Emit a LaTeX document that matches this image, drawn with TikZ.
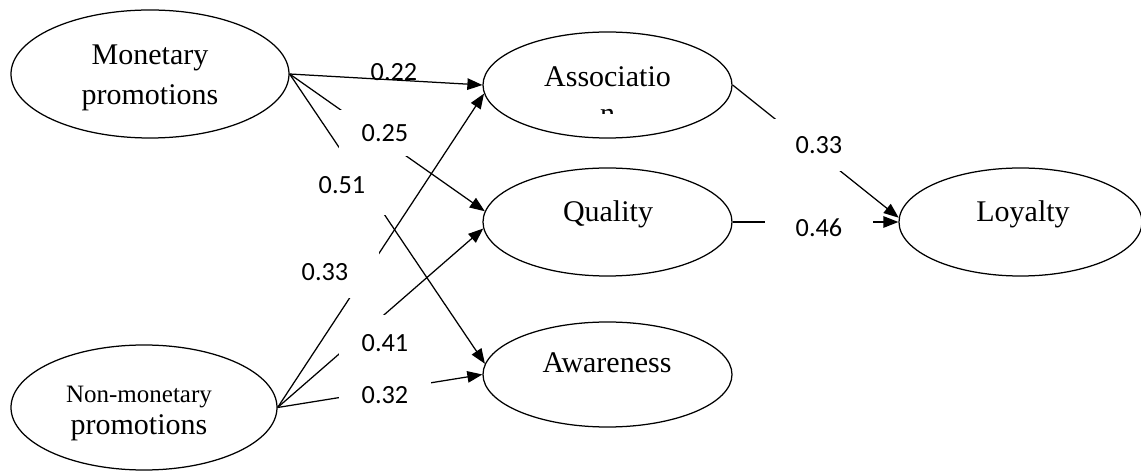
\documentclass[tikz,border=0pt]{standalone}
\usepackage{fontspec}
\setmainfont{Liberation Serif}
\newfontfamily\coeffont{Carlito}
\usetikzlibrary{shapes.geometric,arrows.meta}

\begin{document}
\begin{tikzpicture}[x=0.4pt,y=-0.4pt,line width=0.5pt,>={Triangle[length=6pt,width=4.6pt]},
        construct/.style={ellipse,draw,inner sep=0pt,minimum width=99.6pt,minimum height=42.4pt},
        cname/.style={anchor=base,align=center,inner sep=0pt,font=\fontsize{12}{16}\selectfont},
        lbl/.style={inner sep=0pt,font=\coeffont\fontsize{10.5}{12}\selectfont},
        coef/.style={lbl,fill=white,minimum width=36.8pt,minimum height=18.4pt}]
        \useasboundingbox (0,0) rectangle (1141,472);
        \node[construct,minimum width=111.2pt,minimum height=51.2pt] (mon) at (150,74) {};
        \node[construct,minimum width=106.4pt,minimum height=50pt] (nonmon) at (144,407.5) {};
        \node[construct] (assoc) at (607.5,85) {};
        \node[construct,minimum height=43.2pt] (qual) at (607.5,222) {};
        \node[construct,minimum height=42pt] (aware) at (607.5,374.5) {};
        \node[construct,minimum width=97.2pt,minimum height=43.2pt] (loyal) at (1020.5,222) {};
        \node[cname] (montxt) at (150,105) {Monetary\\promotions};
        \node[cname,font=\fontsize{12}{12.8}\selectfont] (nonmontxt) at (139,435) {{\fontsize{10}{12}\selectfont Non-monetary}\\promotions};
        \begin{scope}
            \clip (450,20) rectangle (760,114);
            \node[cname,font=\fontsize{12}{14.8}\selectfont] (assoctxt) at (607.5,124) {Associatio\\n};
        \end{scope}
        \node[cname] (qualtxt) at (608,222) {Quality};
        \node[cname] (awaretxt) at (607,373) {Awareness};
        \node[cname] (loyaltxt) at (1023,222) {Loyalty};
        % paths
        \draw[->] (mon.east) -- (assoc.west);
        \draw[->] (mon.east) -- (qual.175);
        \draw[->] (mon.east) -- (aware.175);
        \draw[->] (nonmon.east) -- (assoc.184);
        \draw[->] (nonmon.east) -- (qual.183);
        \draw[->] (nonmon.east) -- (aware.west);
        \draw[->] (assoc.east) -- (loyal.178);
        \draw[->] (qual.east) -- (loyal.west);
        % coefficients
        \node[lbl] (c1) at (394,72) {0.22};
        \node[coef] (c2) at (385,133) {0.25};
        \node[coef,minimum height=24pt] (c3) at (342,185) {0.51};
        \node[coef,minimum width=43.2pt,minimum height=20.8pt] (c4) at (325,272) {0.33};
        \node[coef,minimum height=22.4pt] (c5) at (385,343) {0.41};
        \node[coef] (c6) at (385,395) {0.32};
        \node[coef,minimum width=43.2pt,minimum height=20.8pt] (c7) at (819,145) {0.33};
        \node[coef,minimum width=43.2pt,minimum height=20.8pt] (c8) at (819,228) {0.46};
    \end{tikzpicture}
\end{document}
